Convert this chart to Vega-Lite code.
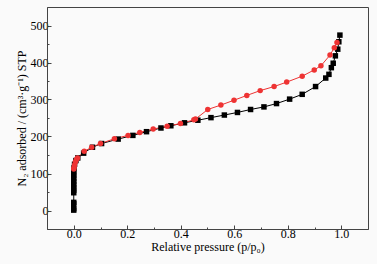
{
  "$schema": "https://vega.github.io/schema/vega-lite/v6.json",
  "width": 321,
  "height": 222,
  "autosize": "none",
  "padding": {"left": 47, "top": 7, "right": 9, "bottom": 35},
  "background": "#fafafa",
  "config": {
    "view": {"stroke": "#444", "strokeWidth": 1},
    "font": "'Liberation Serif', serif",
    "axis": {
      "labelFont": "'Liberation Serif', serif",
      "titleFont": "'Liberation Serif', serif",
      "labelFontSize": 12,
      "titleFontSize": 12,
      "titleFontWeight": "normal",
      "labelColor": "#000",
      "titleColor": "#000",
      "domainColor": "#444",
      "tickColor": "#444",
      "grid": false
    }
  },
  "data": {
    "values": [
      {"branch": "Adsorption", "i": 1, "p": 0.0, "v": 1},
      {"branch": "Adsorption", "i": 2, "p": 0.0, "v": 5},
      {"branch": "Adsorption", "i": 3, "p": 0.0, "v": 18},
      {"branch": "Adsorption", "i": 4, "p": 0.0, "v": 22},
      {"branch": "Adsorption", "i": 5, "p": 0.0, "v": 48},
      {"branch": "Adsorption", "i": 6, "p": 0.0, "v": 55},
      {"branch": "Adsorption", "i": 7, "p": 0.0, "v": 62},
      {"branch": "Adsorption", "i": 8, "p": 0.0, "v": 70},
      {"branch": "Adsorption", "i": 9, "p": 0.0, "v": 78},
      {"branch": "Adsorption", "i": 10, "p": 0.0, "v": 86},
      {"branch": "Adsorption", "i": 11, "p": 0.0, "v": 94},
      {"branch": "Adsorption", "i": 12, "p": 0.0, "v": 101},
      {"branch": "Adsorption", "i": 13, "p": 0.0, "v": 108},
      {"branch": "Adsorption", "i": 14, "p": 0.001, "v": 115},
      {"branch": "Adsorption", "i": 15, "p": 0.003, "v": 125},
      {"branch": "Adsorption", "i": 16, "p": 0.008, "v": 135},
      {"branch": "Adsorption", "i": 17, "p": 0.015, "v": 142},
      {"branch": "Adsorption", "i": 18, "p": 0.037, "v": 155},
      {"branch": "Adsorption", "i": 19, "p": 0.07, "v": 171},
      {"branch": "Adsorption", "i": 20, "p": 0.104, "v": 181},
      {"branch": "Adsorption", "i": 21, "p": 0.166, "v": 193},
      {"branch": "Adsorption", "i": 22, "p": 0.221, "v": 203},
      {"branch": "Adsorption", "i": 23, "p": 0.272, "v": 213},
      {"branch": "Adsorption", "i": 24, "p": 0.326, "v": 223},
      {"branch": "Adsorption", "i": 25, "p": 0.363, "v": 229},
      {"branch": "Adsorption", "i": 26, "p": 0.414, "v": 237},
      {"branch": "Adsorption", "i": 27, "p": 0.464, "v": 244},
      {"branch": "Adsorption", "i": 28, "p": 0.513, "v": 251},
      {"branch": "Adsorption", "i": 29, "p": 0.563, "v": 258},
      {"branch": "Adsorption", "i": 30, "p": 0.612, "v": 265},
      {"branch": "Adsorption", "i": 31, "p": 0.661, "v": 273},
      {"branch": "Adsorption", "i": 32, "p": 0.711, "v": 280},
      {"branch": "Adsorption", "i": 33, "p": 0.758, "v": 289},
      {"branch": "Adsorption", "i": 34, "p": 0.807, "v": 301},
      {"branch": "Adsorption", "i": 35, "p": 0.854, "v": 314},
      {"branch": "Adsorption", "i": 36, "p": 0.904, "v": 335},
      {"branch": "Adsorption", "i": 37, "p": 0.942, "v": 358},
      {"branch": "Adsorption", "i": 38, "p": 0.954, "v": 368},
      {"branch": "Adsorption", "i": 39, "p": 0.963, "v": 386},
      {"branch": "Adsorption", "i": 40, "p": 0.97, "v": 398},
      {"branch": "Adsorption", "i": 41, "p": 0.978, "v": 418},
      {"branch": "Adsorption", "i": 42, "p": 0.987, "v": 436},
      {"branch": "Adsorption", "i": 43, "p": 0.991, "v": 456},
      {"branch": "Adsorption", "i": 44, "p": 0.995, "v": 474},
      {"branch": "Desorption", "i": 1, "p": 0.984, "v": 454},
      {"branch": "Desorption", "i": 2, "p": 0.974, "v": 440},
      {"branch": "Desorption", "i": 3, "p": 0.958, "v": 420},
      {"branch": "Desorption", "i": 4, "p": 0.924, "v": 391},
      {"branch": "Desorption", "i": 5, "p": 0.899, "v": 380},
      {"branch": "Desorption", "i": 6, "p": 0.854, "v": 363},
      {"branch": "Desorption", "i": 7, "p": 0.796, "v": 347},
      {"branch": "Desorption", "i": 8, "p": 0.749, "v": 335},
      {"branch": "Desorption", "i": 9, "p": 0.697, "v": 324},
      {"branch": "Desorption", "i": 10, "p": 0.647, "v": 311},
      {"branch": "Desorption", "i": 11, "p": 0.599, "v": 298},
      {"branch": "Desorption", "i": 12, "p": 0.55, "v": 285},
      {"branch": "Desorption", "i": 13, "p": 0.501, "v": 273},
      {"branch": "Desorption", "i": 14, "p": 0.455, "v": 247},
      {"branch": "Desorption", "i": 15, "p": 0.449, "v": 245},
      {"branch": "Desorption", "i": 16, "p": 0.399, "v": 235},
      {"branch": "Desorption", "i": 17, "p": 0.349, "v": 228},
      {"branch": "Desorption", "i": 18, "p": 0.297, "v": 220},
      {"branch": "Desorption", "i": 19, "p": 0.247, "v": 211},
      {"branch": "Desorption", "i": 20, "p": 0.203, "v": 203},
      {"branch": "Desorption", "i": 21, "p": 0.152, "v": 194},
      {"branch": "Desorption", "i": 22, "p": 0.1, "v": 181},
      {"branch": "Desorption", "i": 23, "p": 0.067, "v": 171},
      {"branch": "Desorption", "i": 24, "p": 0.039, "v": 160},
      {"branch": "Desorption", "i": 25, "p": 0.014, "v": 142},
      {"branch": "Desorption", "i": 26, "p": 0.01, "v": 138},
      {"branch": "Desorption", "i": 27, "p": 0.006, "v": 131},
      {"branch": "Desorption", "i": 28, "p": 0.003, "v": 123},
      {"branch": "Desorption", "i": 29, "p": 0.001, "v": 116},
      {"branch": "Desorption", "i": 30, "p": 0.0, "v": 112}
    ]
  },
  "resolve": {"axis": {"x": "independent", "y": "independent"}},
  "layer": [
    {
      "mark": {"type": "point", "opacity": 0},
      "encoding": {
        "x": {"field": "p", "type": "quantitative", "scale": {"domain": [-0.1, 1.1], "nice": false, "zero": false},
          "axis": {"orient": "bottom", "values": [0.1, 0.3, 0.5, 0.7, 0.9], "labels": false, "title": null, "tickSize": -2, "domain": false}},
        "y": {"field": "v", "type": "quantitative", "scale": {"domain": [-50, 550], "nice": false, "zero": false},
          "axis": {"orient": "left", "values": [50, 150, 250, 350, 450], "labels": false, "title": null, "tickSize": -2, "domain": false}}
      }
    },
    {
      "mark": {"type": "line", "strokeWidth": 1},
      "encoding": {
        "x": {"field": "p", "type": "quantitative", "scale": {"domain": [-0.1, 1.1], "nice": false, "zero": false},
          "axis": {"orient": "bottom", "values": [0, 0.2, 0.4, 0.6, 0.8, 1.0], "format": ".1f", "tickSize": -4, "labelPadding": 3, "titlePadding": 2, "title": "Relative pressure (p/p₀)"}},
        "y": {"field": "v", "type": "quantitative", "scale": {"domain": [-50, 550], "nice": false, "zero": false},
          "axis": {"orient": "left", "values": [0, 100, 200, 300, 400, 500], "tickSize": -4, "labelPadding": 3, "titlePadding": 2, "title": "N₂ adsorbed / (cm³·g⁻¹) STP"}},
        "color": {"field": "branch", "type": "nominal", "scale": {"domain": ["Adsorption", "Desorption"], "range": ["#000000", "#ee3333"]}, "legend": null},
        "order": {"field": "i", "type": "quantitative"}
      }
    },
    {
      "mark": {"type": "point", "filled": true, "opacity": 1, "size": 30},
      "encoding": {
        "x": {"field": "p", "type": "quantitative", "axis": null},
        "y": {"field": "v", "type": "quantitative", "axis": null},
        "color": {"field": "branch", "type": "nominal", "scale": {"domain": ["Adsorption", "Desorption"], "range": ["#000000", "#ee3333"]}, "legend": null},
        "shape": {"field": "branch", "type": "nominal", "scale": {"domain": ["Adsorption", "Desorption"], "range": ["square", "circle"]}, "legend": null}
      }
    }
  ]
}
